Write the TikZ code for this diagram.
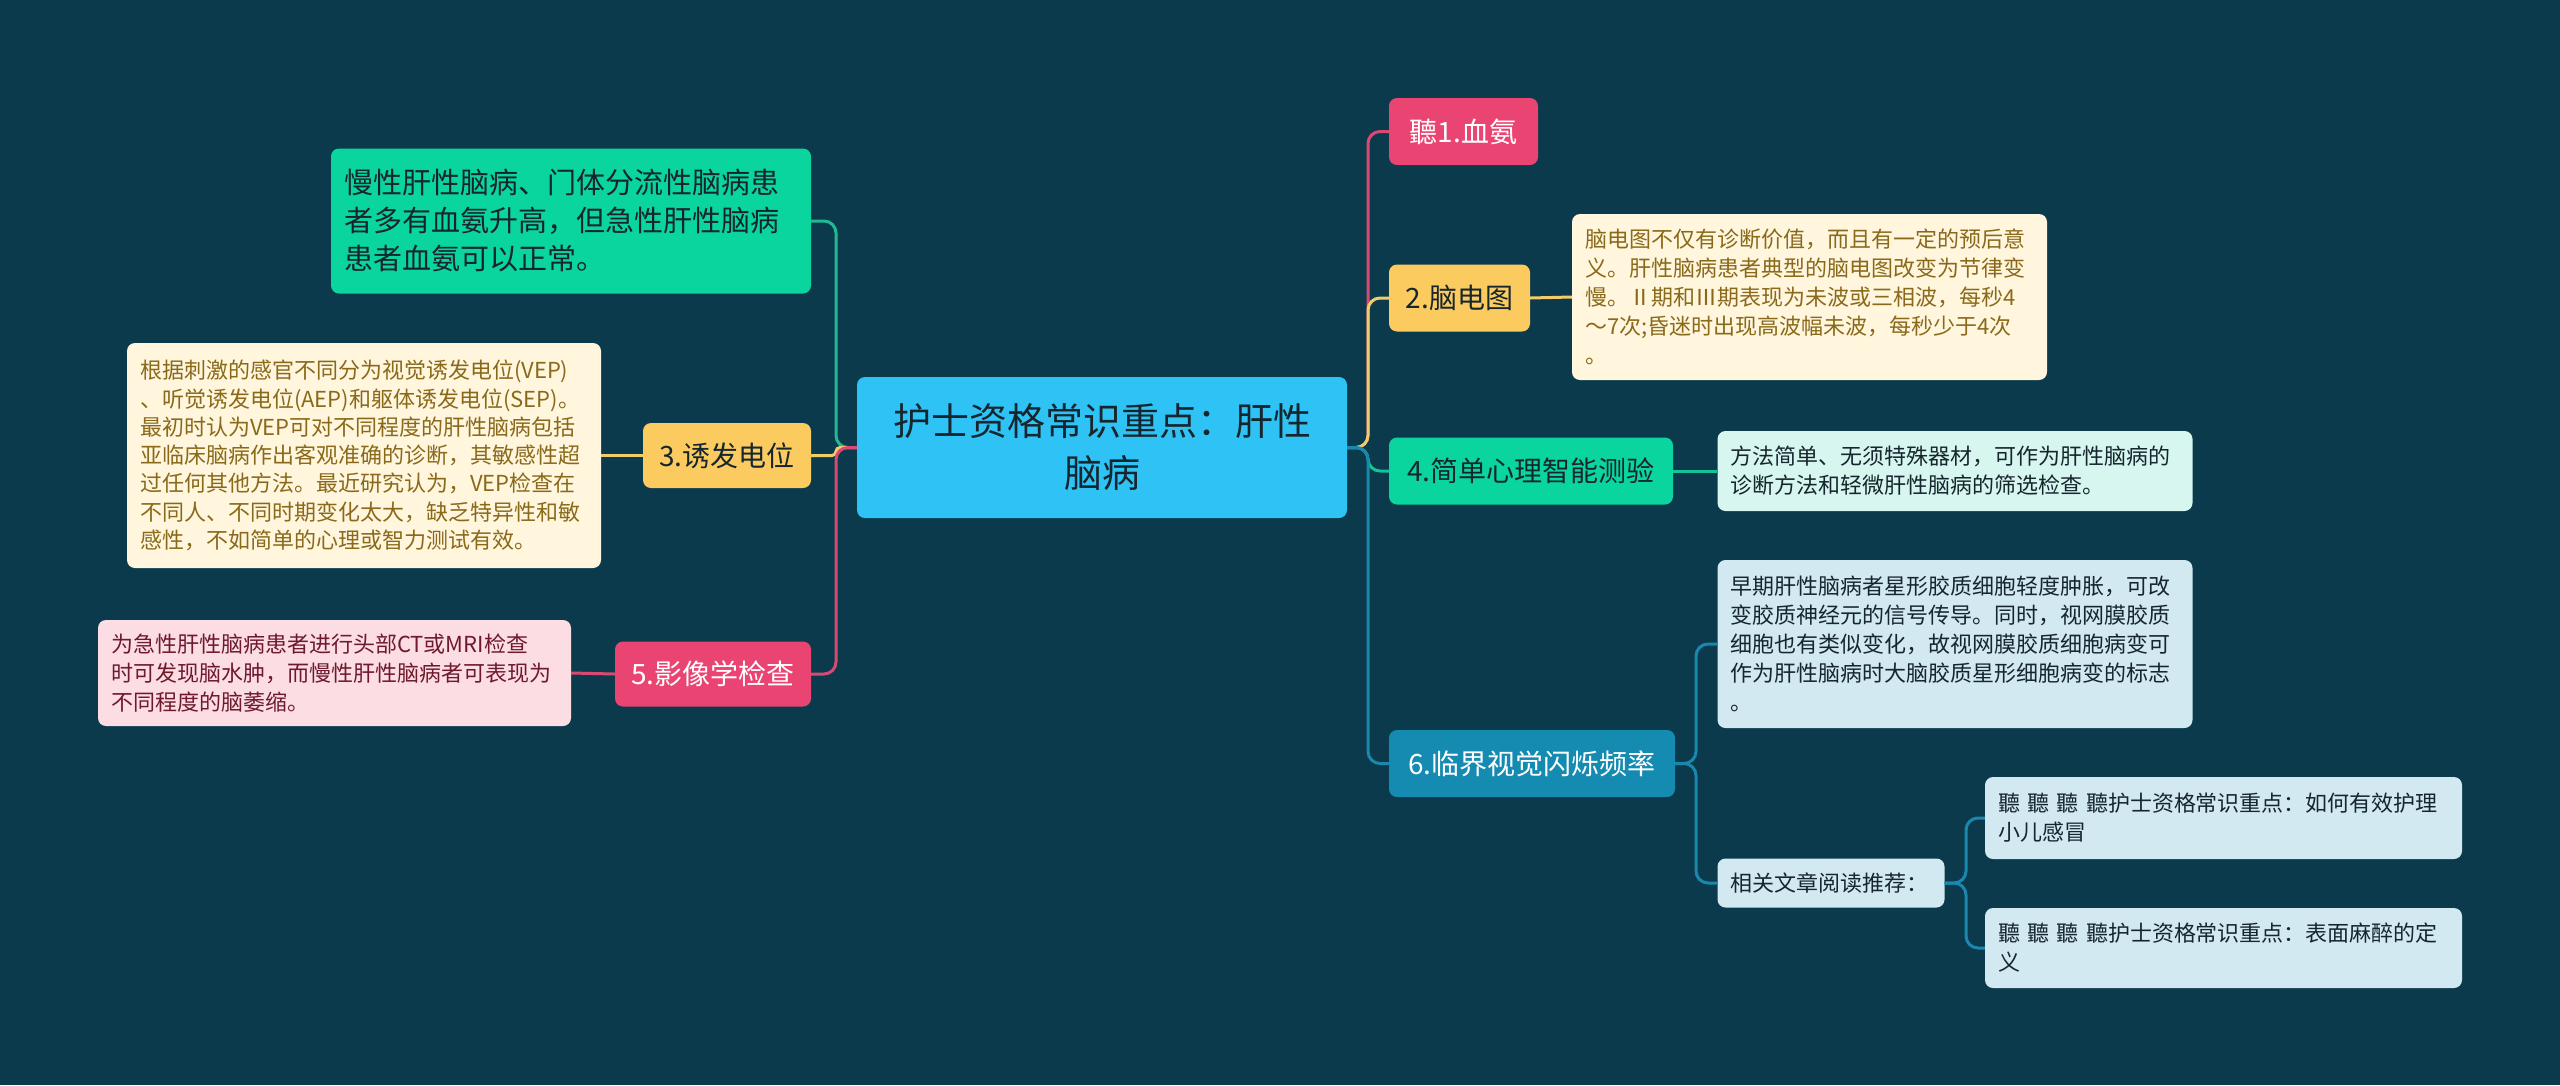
\documentclass[tikz,border=0pt]{standalone}
\usepackage{fontspec}
\setmainfont{Noto Sans CJK SC}
\definecolor{bg}{HTML}{0A3A4C}
\definecolor{croot}{HTML}{2FC3F5}
\definecolor{cpink}{HTML}{EA4572}
\definecolor{cyellow}{HTML}{FCCB5F}
\definecolor{cgreen}{HTML}{0AD59E}
\definecolor{cblue}{HTML}{168BB2}
\definecolor{lpink}{HTML}{D94A72}
\definecolor{lyellow}{HTML}{F2CC6A}
\definecolor{lgreen}{HTML}{14C497}
\definecolor{lteal}{HTML}{22B894}
\definecolor{lblue}{HTML}{1A88AE}
\definecolor{fcream}{HTML}{FFF6DD}
\definecolor{tcream}{HTML}{8A6A1A}
\definecolor{fmint}{HTML}{D6F6EF}
\definecolor{flblue}{HTML}{D2E9F1}
\definecolor{flpink}{HTML}{FDDDE4}
\definecolor{tmaroon}{HTML}{6E1A2C}
\definecolor{tdark}{HTML}{16262E}
\begin{document}
\begin{tikzpicture}[x=1pt,y=-1pt,
  rootbox/.style={rounded corners=8pt, inner sep=0pt, align=center, fill=croot, text=tdark,
    font=\fontsize{38}{52}\selectfont, minimum width=490pt, minimum height=141pt},
  lvlbox/.style={rounded corners=8pt, inner sep=0pt, align=center, minimum height=67pt,
    font=\fontsize{28}{34}\selectfont},
  leafbox/.style={rounded corners=8pt, inner sep=0pt, inner xsep=13pt, align=left,
    font=\fontsize{22}{29}\selectfont},
  conn/.style={line width=3pt, rounded corners=12pt}
]
\fill[bg] (0,0) rectangle (2560,1085);
\useasboundingbox (0,0) rectangle (2560,1085);

% spine coordinates
\coordinate (rs) at (1368,447.5);
\coordinate (ls) at (836,447.5);
\coordinate (s6) at (1696,763.5);
\coordinate (s6b) at (1966,883);

% root
\node[rootbox] (root) at (1102,447.5) {护士资格常识重点：肝性\\脑病};

% right branches
\node[lvlbox, fill=cpink, text=white, minimum width=149pt] (r1) at (1463.5,131.5) {聽1.血氨};
\node[lvlbox, fill=cyellow, text=tdark, minimum width=141pt] (r2) at (1459.5,298) {2.脑电图};
\node[leafbox, fill=fcream, text=tcream, minimum height=166pt, text width=449pt] (r2c) at (1809.5,297)
  {脑电图不仅有诊断价值，而且有一定的预后意\\义。肝性脑病患者典型的脑电图改变为节律变\\慢。Ⅱ期和Ⅲ期表现为未波或三相波，每秒4\\～7次;昏迷时出现高波幅未波，每秒少于4次\\。};
\node[lvlbox, fill=cgreen, text=tdark, minimum width=284pt] (r4) at (1531,471) {4.简单心理智能测验};
\node[leafbox, fill=fmint, text=tdark, minimum height=80pt, text width=449pt] (r4c) at (1955,471)
  {方法简单、无须特殊器材，可作为肝性脑病的\\诊断方法和轻微肝性脑病的筛选检查。};
\node[lvlbox, fill=cblue, text=white, minimum width=286pt] (r6) at (1532,763.5) {6.临界视觉闪烁频率};
\node[leafbox, fill=flblue, text=tdark, minimum height=168pt, text width=449pt] (r6a) at (1955,644)
  {早期肝性脑病者星形胶质细胞轻度肿胀，可改\\变胶质神经元的信号传导。同时，视网膜胶质\\细胞也有类似变化，故视网膜胶质细胞病变可\\作为肝性脑病时大脑胶质星形细胞病变的标志\\。};
\node[leafbox, fill=flblue, text=tdark, minimum height=49pt, text width=201pt] (r6b) at (1831,883)
  {相关文章阅读推荐：};
\node[leafbox, fill=flblue, text=tdark, minimum height=82pt, text width=451pt] (r6b1) at (2223.5,818)
  {聽 聽 聽 聽护士资格常识重点：如何有效护理\\小儿感冒};
\node[leafbox, fill=flblue, text=tdark, minimum height=80pt, text width=451pt] (r6b2) at (2223.5,948)
  {聽 聽 聽 聽护士资格常识重点：表面麻醉的定\\义};

% left branches
\node[leafbox, fill=cgreen, text=tdark, minimum height=145pt, text width=454pt,
  font=\fontsize{29}{38}\selectfont] (l1) at (571,221)
  {慢性肝性脑病、门体分流性脑病患\\者多有血氨升高，但急性肝性脑病\\患者血氨可以正常。};
\node[lvlbox, fill=cyellow, text=tdark, minimum width=168pt, minimum height=65pt] (l3) at (727,455.5) {3.诱发电位};
\node[leafbox, fill=fcream, text=tcream, minimum height=225pt, text width=448pt,
  font=\fontsize{22}{28.3}\selectfont] (l3c) at (364,455.5)
  {根据刺激的感官不同分为视觉诱发电位(VEP)\\、听觉诱发电位(AEP)和躯体诱发电位(SEP)。\\最初时认为VEP可对不同程度的肝性脑病包括\\亚临床脑病作出客观准确的诊断，其敏感性超\\过任何其他方法。最近研究认为，VEP检查在\\不同人、不同时期变化太大，缺乏特异性和敏\\感性，不如简单的心理或智力测试有效。};
\node[lvlbox, fill=cpink, text=white, minimum width=196pt, minimum height=65pt] (l5) at (713,674) {5.影像学检查};
\node[leafbox, fill=flpink, text=tmaroon, minimum height=106pt, text width=447pt] (l5c) at (334.5,673)
  {为急性肝性脑病患者进行头部CT或MRI检查\\时可发现脑水肿，而慢性肝性脑病者可表现为\\不同程度的脑萎缩。};

% connectors
\draw[conn, lpink] (root.east) -- (rs) |- (r1.west);
\draw[conn, lyellow] (root.east) -- (rs) |- (r2.west);
\draw[conn, lgreen] (root.east) -- (rs) |- (r4.west);
\draw[conn, lblue] (root.east) -- (rs) |- (r6.west);
\draw[conn, lyellow] (r2.east) -- (r2c.west);
\draw[conn, lgreen] (r4.east) -- (r4c.west);
\draw[conn, lblue] (r6.east) -- (s6) |- (r6a.west);
\draw[conn, lblue] (r6.east) -- (s6) |- (r6b.west);
\draw[conn, lblue] (r6b.east) -- (s6b) |- (r6b1.west);
\draw[conn, lblue] (r6b.east) -- (s6b) |- (r6b2.west);

\draw[conn, lteal] (root.west) -- (ls) |- (l1.east);
\draw[conn, lyellow, rounded corners=4pt] (root.west) -- (ls) |- (l3.east);
\draw[conn, lpink] (root.west) -- (ls) |- (l5.east);
\draw[conn, lyellow] (l3.west) -- (l3c.east);
\draw[conn, lpink] (l5.west) -- (l5c.east);
\end{tikzpicture}
\end{document}
